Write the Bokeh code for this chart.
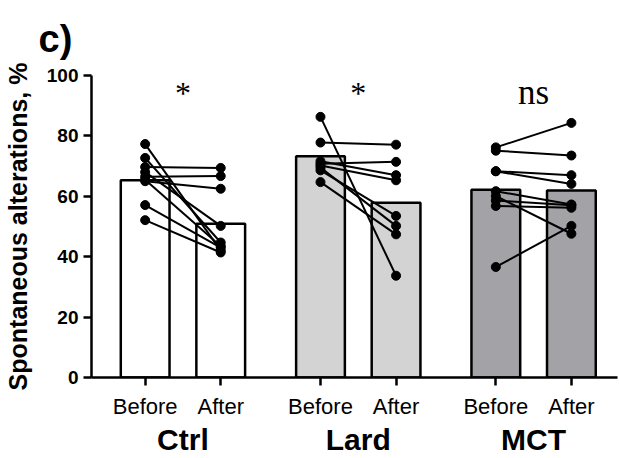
from bokeh.plotting import figure
from bokeh.models import Range1d, FixedTicker, LinearAxis
from bokeh.core.properties import value
from bokeh.embed import file_html
from bokeh.resources import INLINE

# ---------------- data ----------------
groups = ["Ctrl", "Lard", "MCT"]
conditions = ["Before", "After"]
bar_colors = ["#ffffff", "#d3d3d3", "#a3a2a6"]

ctrl_mean = [65.3, 50.9]
lard_mean = [73.3, 57.9]
mct_mean = [62.2, 61.9]

ctrl_before = [77.3, 72.7, 69.7, 68.0, 66.5, 65.5, 65.0, 57.1, 52.1]
ctrl_after = [42.0, 44.7, 69.4, 50.2, 66.7, 43.5, 62.5, 43.0, 41.4]

lard_before = [86.3, 77.8, 71.6, 70.8, 70.2, 69.5, 68.6, 64.7]
lard_after = [33.7, 77.1, 67.0, 71.4, 65.3, 50.2, 53.5, 47.4]

mct_before = [76.2, 75.1, 68.3, 68.3, 61.7, 60.1, 58.6, 56.8, 36.6]
mct_after = [84.3, 73.5, 67.0, 64.1, 57.3, 47.6, 57.0, 56.2, 50.2]

sig_labels = ["*", "*", "ns"]
y_ticks = [0, 20, 40, 60, 80, 100]

means = [ctrl_mean, lard_mean, mct_mean]
befores = [ctrl_before, lard_before, mct_before]
afters = [ctrl_after, lard_after, mct_after]

# ---------------- layout ----------------
GROUP_STEP = 2.32
def xpos(g, c):
    return g * GROUP_STEP + c

p = figure(width=619, height=458, output_backend="svg", toolbar_location=None,
           x_range=Range1d(-0.71, 6.25), y_range=Range1d(0, 100),
           min_border_left=88, min_border_right=2, min_border_top=75,
           min_border_bottom=81, x_axis_type=None, y_axis_type=None,
           title="c)")
p.outline_line_color = None
p.grid.visible = False
p.background_fill_color = "white"

p.title.text_font = "Liberation Sans"
p.title.text_font_style = "bold"
p.title.text_font_size = "38px"
p.title.text_color = "black"
p.title.align = "left"
p.title.offset = -53
p.title.standoff = 31

# bars
bx, btop, bcol = [], [], []
for g in range(3):
    for c in range(2):
        bx.append(xpos(g, c))
        btop.append(means[g][c])
        bcol.append(bar_colors[g])
p.vbar(x=bx, top=btop, bottom=0, width=0.645, fill_color=bcol,
       line_color="black", line_width=2.5)

# paired lines and points
xs, ys, px, py = [], [], [], []
for g in range(3):
    for b, a in zip(befores[g], afters[g]):
        xs.append([xpos(g, 0), xpos(g, 1)])
        ys.append([b, a])
        px += [xpos(g, 0), xpos(g, 1)]
        py += [b, a]
p.multi_line(xs=xs, ys=ys, line_color="black", line_width=2)
p.scatter(x=px, y=py, size=9, marker="circle", fill_color="black", line_color="black")

# significance labels
sx = [xpos(g, 0.5) for g in range(3)]
p.text(x=sx[:2], y=[94.3, 94.3], text=sig_labels[:2], text_align="center",
       text_baseline="alphabetic", text_font=value("Liberation Serif"),
       text_font_size="32px", text_color="black")
p.text(x=sx[2:], y=[94.3], text=sig_labels[2:], text_align="center",
       text_baseline="alphabetic", text_font=value("Liberation Serif"),
       text_font_size="35px", text_color="black")

# y axis
yax = LinearAxis(ticker=FixedTicker(ticks=y_ticks),
                 axis_label="Spontaneous alterations, %")
yax.axis_line_width = 2.5
yax.major_tick_line_width = 2.5
yax.major_tick_out = 8
yax.major_tick_in = 0
yax.minor_tick_out = 0
yax.minor_tick_in = 0
yax.major_label_text_font = "Liberation Sans"
yax.major_label_text_font_style = "bold"
yax.major_label_text_font_size = "19px"
yax.major_label_text_color = "black"
yax.major_label_standoff = 5
yax.axis_label_text_font = "Liberation Sans"
yax.axis_label_text_font_style = "bold"
yax.axis_label_text_font_size = "25px"
yax.axis_label_text_color = "black"
yax.axis_label_standoff = 12
p.add_layout(yax, "left")

# x axis with condition labels
tick_pos = [xpos(g, c) for g in range(3) for c in range(2)]
xax = LinearAxis(ticker=FixedTicker(ticks=tick_pos))
xax.major_label_overrides = {t: conditions[i % 2] for i, t in enumerate(tick_pos)}
xax.axis_line_width = 2.5
xax.major_tick_line_width = 2.5
xax.major_tick_out = 8
xax.major_tick_in = 0
xax.minor_tick_out = 0
xax.minor_tick_in = 0
xax.major_label_text_font = "Liberation Sans"
xax.major_label_text_font_size = "22px"
xax.major_label_text_color = "black"
xax.major_label_standoff = 8
p.add_layout(xax, "below")

# second axis carrying the group names
gpos = [xpos(g, 0.5) for g in range(3)]
gax = LinearAxis(ticker=FixedTicker(ticks=gpos))
gax.major_label_overrides = {t: groups[i] for i, t in enumerate(gpos)}
gax.axis_line_color = None
gax.major_tick_line_color = None
gax.minor_tick_line_color = None
gax.major_tick_out = 0
gax.major_tick_in = 0
gax.minor_tick_out = 0
gax.minor_tick_in = 0
gax.major_label_text_font = "Liberation Sans"
gax.major_label_text_font_style = "bold"
gax.major_label_text_font_size = "30px"
gax.major_label_text_color = "black"
gax.major_label_standoff = 1
p.add_layout(gax, "below")

open("out.html", "w").write(file_html(p, INLINE))
